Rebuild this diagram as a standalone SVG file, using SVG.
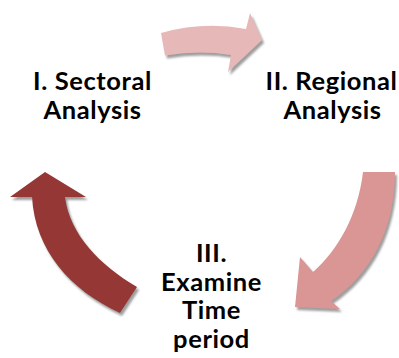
<svg xmlns="http://www.w3.org/2000/svg" width="399" height="358" viewBox="0 0 399 358">
  <defs>
    <filter id="sh" x="-20%" y="-20%" width="140%" height="140%">
      <feGaussianBlur in="SourceAlpha" stdDeviation="0.8" result="b"/>
      <feOffset in="b" dx="2" dy="3" result="o"/>
      <feFlood flood-color="#8c8c8c" flood-opacity="0.85"/>
      <feComposite in2="o" operator="in" result="s"/>
      <feMerge><feMergeNode in="s"/><feMergeNode in="SourceGraphic"/></feMerge>
    </filter>
  </defs>
  <style>
    .lbl { font-family: Lato, "Liberation Sans", sans-serif; font-weight: bold; font-size: 25.5px; letter-spacing: 0.6px; fill: #000; text-anchor: middle; }
    .arrow { filter: url(#sh); stroke: none; }
  </style>
  <rect width="399" height="358" fill="#fff"/>
  <g id="connectors">
    <path id="arrow-top" class="arrow" fill="#E6B9B8" d="M161,33 Q203,21 246,29 L250,13 L262,40 L228,72 L231,55 Q198,50 165,55.5 Z"/>
    <path id="arrow-right" class="arrow" fill="#D99694" d="M363,172 L395,172 C395,230 370,275 331,301 L340,309 L295,307 L300,257 L313,272 C338,250 358,215 363,172 Z"/>
    <path id="arrow-left" class="arrow" fill="#953735" d="M45,172 L86,197 L65,197 C70,235 100,265 137,287 L120,313 C70,290 35,250 32,197 L10,197 Z"/>
  </g>
  <g id="node-sectoral">
    <text class="lbl" x="92.5" y="90">I. Sectoral</text>
    <text class="lbl" x="92.5" y="118.5">Analysis</text>
  </g>
  <g id="node-regional">
    <text class="lbl" x="331.5" y="90">II. Regional</text>
    <text class="lbl" x="332.5" y="118.5">Analysis</text>
  </g>
  <g id="node-time">
    <text class="lbl" x="211.5" y="262">III.</text>
    <text class="lbl" x="211.5" y="290.5">Examine</text>
    <text class="lbl" x="211.5" y="319">Time</text>
    <text class="lbl" x="211.5" y="347.5">period</text>
  </g>
</svg>
